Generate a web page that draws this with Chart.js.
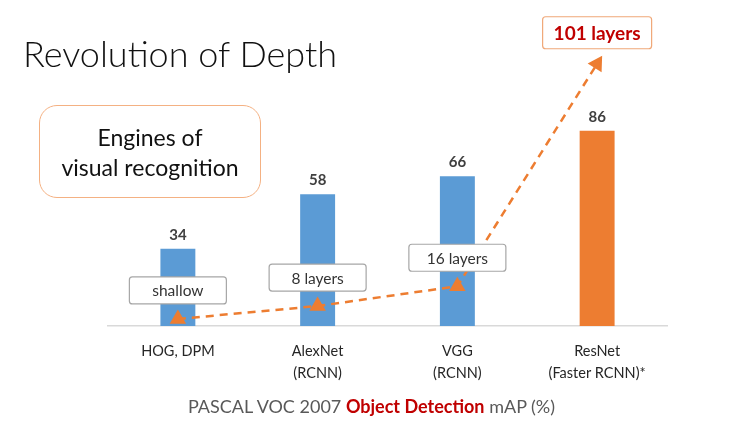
<!DOCTYPE html>
<html><head><meta charset="utf-8">
<script src="https://cdn.jsdelivr.net/npm/chart.js@4.4.0/dist/chart.umd.min.js"></script>
<style>
html,body{margin:0;padding:0;background:#fff;}
#wrap{position:relative;width:740px;height:426px;overflow:hidden;font-family:Lato,"Open Sans",sans-serif;}
canvas{position:absolute;left:0;top:0;}
#title{position:absolute;left:23px;top:35px;font-size:36px;font-weight:300;line-height:36px;color:#111;white-space:nowrap;}
#engines{position:absolute;left:39px;top:105px;width:222px;height:93px;box-sizing:border-box;border:1.5px solid #f4b183;border-radius:18px;display:flex;align-items:center;justify-content:center;text-align:center;font-size:23px;line-height:30px;color:#111;}
#caption{position:absolute;left:0;width:743px;top:397px;text-align:center;font-size:18px;line-height:18px;color:#595959;white-space:nowrap;}
#caption b{color:#c00000;font-weight:700;}
</style></head>
<body><div id="wrap">
<canvas id="c" width="740" height="426"></canvas>
<div id="title">Revolution of Depth</div>
<div id="engines"><div>Engines of<br>visual recognition</div></div>
<div id="caption">PASCAL VOC 2007 <b>Object Detection</b> mAP (%)</div>
</div>
<script>
const categories = [["HOG, DPM"], ["AlexNet", "(RCNN)"], ["VGG", "(RCNN)"], ["ResNet", "(Faster RCNN)*"]];
const mapValues = [34, 58, 66, 86];
const barColors = ["#5b9bd5", "#5b9bd5", "#5b9bd5", "#ed7d31"];
const depthPoints = [3.1, 8.8, 17.5, 115.5];
const depthLabels = ["shallow", "8 layers", "16 layers", "101 layers"];

const overlay = {
  id: 'overlay',
  afterDatasetsDraw(chart) {
    const ctx = chart.ctx;
    const barMeta = chart.getDatasetMeta(0);
    ctx.save();
    ctx.font = 'bold 15px Lato, "Open Sans", sans-serif';
    ctx.fillStyle = '#404040';
    ctx.textAlign = 'center';
    ctx.textBaseline = 'middle';
    barMeta.data.forEach((bar, i) => {
      ctx.fillText(String(mapValues[i]), bar.x, bar.y - 14);
    });
    const lineMeta = chart.getDatasetMeta(1);
    lineMeta.data.forEach((pt, i) => {
      const last = i === depthLabels.length - 1;
      const w = last ? 109 : 97;
      const h = last ? 32 : 27;
      const cx = pt.x, cy = pt.y - (last ? 31 : 28.5);
      ctx.beginPath();
      ctx.roundRect(cx - w / 2, cy - h / 2, w, h, 3);
      ctx.fillStyle = '#ffffff';
      ctx.fill();
      ctx.lineWidth = 1.2;
      ctx.strokeStyle = last ? '#f0a878' : '#a6a6a6';
      ctx.stroke();
      ctx.fillStyle = last ? '#c00000' : '#333333';
      ctx.font = last ? 'bold 19px Lato, "Open Sans", sans-serif' : '15.5px Lato, "Open Sans", sans-serif';
      ctx.fillText(depthLabels[i], cx, cy + 1);
    });
    ctx.restore();
  }
};

new Chart(document.getElementById('c'), {
  data: {
    labels: categories,
    datasets: [
      {
        type: 'bar',
        data: mapValues,
        backgroundColor: barColors,
        categoryPercentage: 1,
        barPercentage: 0.25,
        order: 2
      },
      {
        type: 'line',
        data: depthPoints,
        borderColor: '#ed7d31',
        borderWidth: 2.5,
        borderDash: [8, 6],
        tension: 0,
        pointStyle: 'triangle',
        pointRadius: 7,
        pointBackgroundColor: '#ed7d31',
        pointBorderColor: '#ed7d31',
        pointRotation: [0, 0, 0, 32],
        order: 1
      }
    ]
  },
  options: {
    responsive: false,
    animation: false,
    events: [],
    layout: { padding: { left: 108, right: 73, top: 0, bottom: 28 } },
    plugins: { legend: { display: false }, tooltip: { enabled: false } },
    scales: {
      x: {
        grid: { display: false, drawTicks: false },
        border: { display: true, color: '#d9d9d9', width: 1.5 },
        ticks: {
          padding: 14,
          color: '#262626',
          font: { family: 'Lato, "Open Sans", sans-serif', size: 14.5, lineHeight: 1.517 },
          maxRotation: 0
        }
      },
      y: { display: false, min: 0, max: 139.4 }
    }
  },
  plugins: [overlay]
});
</script>
</body></html>
